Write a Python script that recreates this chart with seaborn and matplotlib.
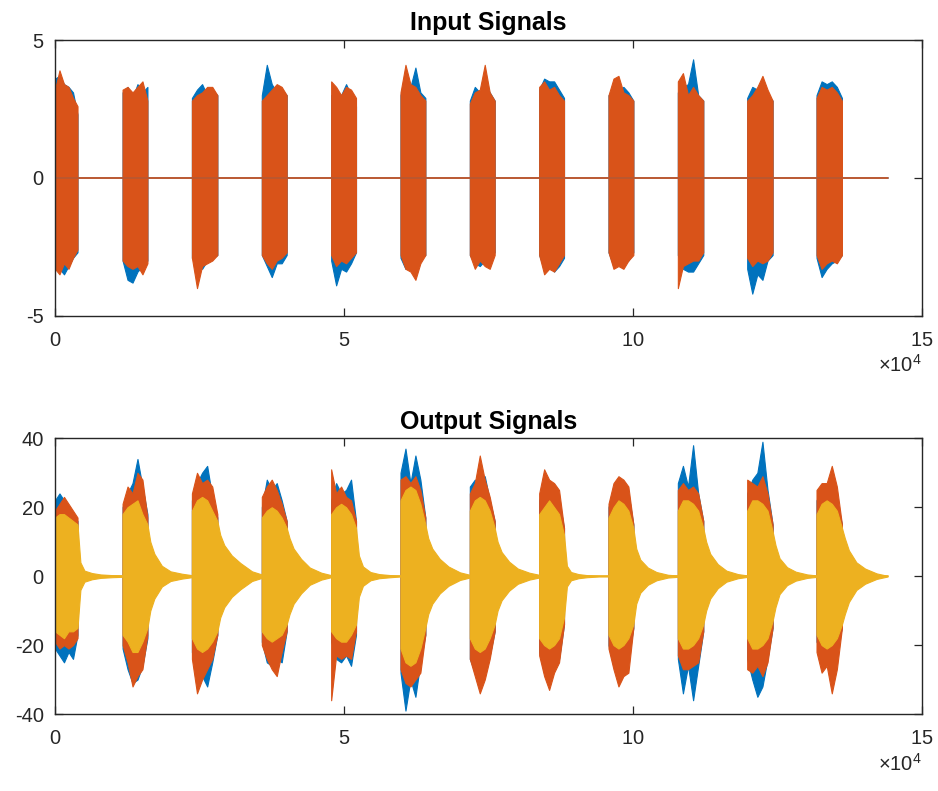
import numpy as np
import pandas as pd
import matplotlib
matplotlib.use("Agg")
import matplotlib.pyplot as plt
import seaborn as sns

# ---- data (x in units of 1e4 samples) ----
burst_start = [0.0, 1.17, 2.37, 3.58, 4.78, 5.98, 7.18, 8.38, 9.58, 10.78, 11.98, 13.18]
burst_end = [0.39, 1.60, 2.81, 4.01, 5.21, 6.41, 7.61, 8.81, 10.01, 11.22, 12.42, 13.62]
signal_end = 14.41

# input envelopes, 6 samples across each burst
in_blue_top = [[3.6, 3.7, 3.4, 3.3, 3.1, 2.3], [3.1, 3.3, 2.9, 3.4, 3.1, 3.3], [2.9, 3.2, 3.4, 3.0, 3.2, 3.0],
               [3.0, 4.1, 3.4, 3.1, 3.2, 3.0], [3.0, 3.1, 3.0, 3.4, 3.0, 2.6], [3.0, 3.7, 3.3, 4.0, 3.1, 2.9],
               [2.8, 3.3, 3.1, 3.4, 3.1, 2.8], [3.2, 3.6, 3.5, 3.5, 3.2, 2.9], [3.0, 3.1, 3.2, 3.3, 3.1, 2.8],
               [3.1, 3.3, 3.4, 4.3, 3.0, 2.8], [2.9, 3.3, 3.2, 3.6, 3.0, 2.8], [3.0, 3.5, 3.4, 3.5, 3.3, 2.9]]
in_orange_top = [[3.2, 3.9, 3.4, 3.3, 2.9, 2.6], [3.2, 3.3, 3.1, 3.3, 3.5, 2.8], [2.8, 3.0, 3.1, 3.3, 3.3, 3.0],
                 [2.8, 3.0, 3.2, 3.4, 3.3, 3.0], [3.5, 3.3, 3.0, 3.3, 3.2, 2.9], [3.1, 4.1, 3.4, 3.3, 3.0, 2.8],
                 [2.7, 3.1, 3.2, 4.1, 3.1, 2.8], [3.3, 3.5, 3.2, 3.3, 3.0, 2.8], [3.0, 3.6, 3.7, 3.1, 3.0, 2.8],
                 [3.5, 3.8, 3.0, 3.3, 3.0, 2.8], [2.8, 3.0, 3.3, 3.7, 3.2, 2.8], [2.9, 3.3, 3.2, 3.3, 3.1, 2.8]]
in_blue_bot = [[-3.1, -3.3, -3.5, -3.2, -2.9, -2.7], [-3.0, -3.7, -3.8, -3.4, -3.2, -3.0], [-2.9, -3.2, -3.3, -3.0, -2.9, -2.8],
               [-2.8, -3.2, -3.6, -3.1, -3.1, -2.8], [-3.0, -3.9, -3.3, -3.4, -3.1, -2.7], [-2.9, -3.3, -3.2, -3.3, -2.9, -2.8],
               [-2.8, -3.1, -3.2, -3.0, -2.9, -2.7], [-2.8, -3.3, -3.1, -3.4, -3.2, -2.9], [-2.7, -3.2, -3.1, -3.1, -3.0, -2.7],
               [-2.8, -3.3, -3.4, -3.4, -3.1, -2.8], [-3.3, -4.2, -3.5, -3.7, -3.0, -2.8], [-2.9, -3.6, -3.3, -3.1, -3.0, -2.8]]
in_orange_bot = [[-3.3, -3.5, -3.1, -3.3, -2.9, -2.6], [-3.0, -3.2, -3.3, -3.2, -3.5, -3.1], [-2.9, -4.0, -3.2, -3.1, -3.0, -2.8],
                 [-2.8, -3.1, -3.3, -3.0, -2.9, -2.7], [-2.8, -3.2, -3.0, -3.1, -2.9, -2.7], [-2.8, -3.3, -3.4, -3.7, -3.1, -2.8],
                 [-2.8, -3.3, -3.0, -3.2, -3.3, -2.8], [-2.8, -3.5, -3.3, -3.4, -3.1, -2.8], [-2.7, -3.3, -3.2, -3.3, -3.0, -2.8],
                 [-4.0, -3.2, -3.1, -3.0, -3.0, -2.7], [-2.9, -3.2, -3.0, -3.1, -3.0, -2.7], [-2.8, -3.3, -3.1, -3.0, -3.1, -2.8]]

# output envelopes
out_blue_top = [[22, 24, 22, 19, 18, 16], [20, 24, 27, 34, 26, 18], [22, 27, 30, 32, 23, 17], [20, 28, 25, 27, 22, 16],
                [22, 27, 24, 25, 28, 16], [30, 37, 27, 35, 28, 17], [26, 28, 27, 29, 22, 16], [22, 26, 27, 26, 22, 14],
                [20, 25, 26, 27, 24, 15], [27, 32, 26, 38, 24, 16], [24, 28, 30, 39, 25, 15], [22, 25, 23, 24, 22, 15]]
out_orange_top = [[19, 21, 23, 21, 19, 17], [21, 26, 24, 30, 28, 17], [24, 30, 27, 28, 26, 18], [23, 26, 28, 25, 21, 16],
                  [31, 24, 26, 23, 22, 16], [28, 29, 27, 29, 25, 17], [24, 27, 35, 28, 23, 16], [24, 31, 28, 27, 25, 14],
                  [21, 27, 29, 28, 26, 15], [25, 27, 25, 26, 24, 16], [28, 27, 26, 29, 24, 15], [25, 27, 27, 32, 26, 15]]
out_yellow_top = [[17, 18, 18, 17, 16, 15], [18, 20, 21, 22, 18, 15], [19, 22, 23, 22, 19, 16], [17, 19, 20, 19, 17, 14],
                  [18, 20, 21, 20, 18, 14], [22, 25, 26, 25, 21, 15], [19, 22, 23, 22, 19, 14], [18, 20, 22, 20, 18, 12],
                  [17, 20, 22, 21, 19, 14], [19, 22, 22, 21, 19, 14], [19, 22, 22, 21, 19, 13], [18, 21, 22, 21, 19, 14]]
out_blue_bot = [[-21, -23, -25, -22, -24, -17], [-21, -27, -31, -30, -26, -18], [-22, -28, -29, -32, -25, -17],
                [-19, -25, -26, -24, -25, -16], [-19, -24, -25, -23, -26, -17], [-28, -39, -30, -35, -25, -17],
                [-24, -28, -27, -26, -23, -16], [-22, -28, -29, -27, -24, -14], [-20, -26, -30, -27, -24, -15],
                [-24, -34, -26, -36, -26, -16], [-24, -30, -35, -32, -24, -15], [-19, -22, -24, -22, -21, -15]]
out_orange_bot = [[-19, -21, -20, -21, -20, -18], [-20, -25, -32, -29, -27, -17], [-24, -34, -30, -27, -24, -17],
                  [-20, -24, -27, -29, -22, -16], [-36, -23, -24, -23, -24, -16], [-27, -31, -32, -30, -28, -17],
                  [-24, -29, -34, -30, -24, -16], [-23, -29, -33, -28, -25, -14], [-21, -27, -32, -29, -28, -15],
                  [-23, -27, -27, -26, -25, -16], [-27, -28, -26, -29, -25, -15], [-22, -28, -26, -34, -27, -15]]
out_yellow_bot = [[-16, -17, -18, -16, -16, -15], [-17, -19, -22, -22, -19, -15], [-18, -21, -22, -21, -19, -16],
                  [-16, -18, -19, -18, -17, -14], [-16, -18, -19, -19, -17, -14], [-21, -25, -26, -25, -21, -15],
                  [-18, -21, -22, -21, -18, -14], [-18, -20, -21, -20, -18, -12], [-17, -20, -21, -20, -18, -14],
                  [-18, -21, -21, -20, -18, -14], [-18, -21, -21, -20, -18, -13], [-17, -20, -21, -20, -18, -14]]

# decaying tail after each burst (amplitude at offsets after burst end)
tail_offsets = [0.05, 0.12, 0.25, 0.4, 0.6, 0.77]
tail_amp = [[4, 1.6, 0.9, 0.5, 0.3, 0.2], [10, 6.5, 3, 1.4, 0.7, 0.3], [12, 9, 6, 3.8, 1.4, 0.5],
            [11, 8, 5, 2.5, 1.0, 0.3], [6, 2.8, 1.2, 0.6, 0.3, 0.1], [11, 8, 5, 2.8, 1.1, 0.4],
            [10, 7, 4.2, 2.2, 1.0, 0.4], [3, 1.2, 0.6, 0.3, 0.1, 0.1], [8, 4.8, 2.5, 1.2, 0.4, 0.2],
            [10, 6.5, 3.5, 1.6, 0.6, 0.2], [9, 5.2, 2.6, 1.3, 0.5, 0.2], [11, 7.5, 4, 2.2, 0.8, 0.1]]

C_BLUE, C_ORANGE, C_YELLOW = "#0072BD", "#D95319", "#EDB120"
SCALE = 1e4

sns.set_theme(style="white")
plt.rcParams["font.family"] = ["Liberation Sans", "DejaVu Sans"]
plt.rcParams["mathtext.fontset"] = "custom"
plt.rcParams["mathtext.rm"] = "Liberation Sans"
plt.rcParams["axes.unicode_minus"] = False


def burst_x(i):
    return np.linspace(burst_start[i], burst_end[i], 6) * SCALE


def fill_burst(ax, x, top, bot, color):
    ax.fill_between(x, bot, top, color=color, lw=0.8, edgecolor=color)


def style_axes(ax, ylim, yticks, title):
    ax.set_xlim(0, 15 * SCALE)
    ax.set_ylim(*ylim)
    ax.set_xticks([0, 5e4, 10e4, 15e4])
    ax.set_yticks(yticks)
    ax.ticklabel_format(axis="x", style="sci", scilimits=(4, 4), useMathText=True)
    ax.tick_params(direction="in", length=6, width=0.9, colors="#262626", labelsize=14.5,
                   top=True, right=True, bottom=True, left=True)
    ax.tick_params(axis="x", pad=11)
    ax.tick_params(axis="y", pad=8)
    ax.xaxis.get_offset_text().set_fontsize(14.5)
    ax.xaxis.get_offset_text().set_color("#262626")
    for s in ax.spines.values():
        s.set_visible(True)
        s.set_color("#262626")
        s.set_linewidth(1.0)
    ax.set_title(title, fontsize=18, fontweight="bold", color="black", pad=7)
    ax.set_xlabel("")
    ax.set_ylabel("")


fig = plt.figure(figsize=(9.38, 7.91), dpi=100)
ax1 = fig.add_axes([0.0586, 0.6009, 0.924, 0.3485])
ax2 = fig.add_axes([0.0586, 0.0973, 0.924, 0.3486])

# ---- input signals ----
base = pd.DataFrame({"x": [0, signal_end * SCALE], "y": [0, 0]})
sns.lineplot(data=base, x="x", y="y", ax=ax1, color=C_BLUE, lw=1.2)
for i in range(len(burst_start)):
    fill_burst(ax1, burst_x(i), in_blue_top[i], in_blue_bot[i], C_BLUE)
sns.lineplot(data=base, x="x", y="y", ax=ax1, color=C_ORANGE, lw=1.2)
for i in range(len(burst_start)):
    fill_burst(ax1, burst_x(i), in_orange_top[i], in_orange_bot[i], C_ORANGE)
style_axes(ax1, (-5, 5), [-5, 0, 5], "Input Signals")

# ---- output signals ----
sns.lineplot(data=base, x="x", y="y", ax=ax2, color=C_YELLOW, lw=1.2)
for i in range(len(burst_start)):
    fill_burst(ax2, burst_x(i), out_blue_top[i], out_blue_bot[i], C_BLUE)
for i in range(len(burst_start)):
    fill_burst(ax2, burst_x(i), out_orange_top[i], out_orange_bot[i], C_ORANGE)
for i in range(len(burst_start)):
    offs = list(tail_offsets)
    if i == len(burst_start) - 1:
        offs[-1] = signal_end - burst_end[i]
    tx = burst_end[i] * SCALE + np.array(offs) * SCALE
    x = np.concatenate([burst_x(i), tx])
    top = np.concatenate([out_yellow_top[i], tail_amp[i]])
    bot = np.concatenate([out_yellow_bot[i], -np.array(tail_amp[i])])
    fill_burst(ax2, x, top, bot, C_YELLOW)
style_axes(ax2, (-40, 40), [-40, -20, 0, 20, 40], "Output Signals")

fig.savefig("out.png", dpi=100, facecolor="white")
